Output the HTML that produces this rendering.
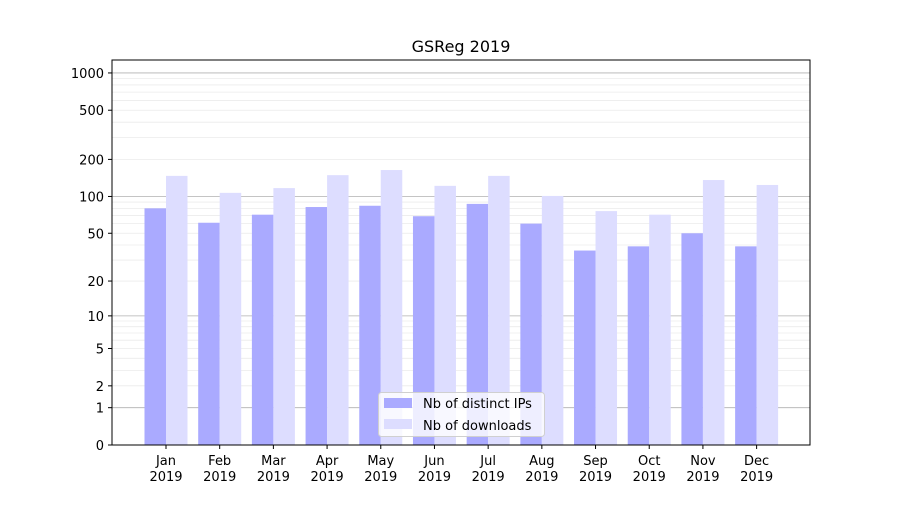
<!DOCTYPE html>
<html><head><meta charset="utf-8"><style>
body{margin:0;background:#fff;}
svg text{font-family:"DejaVu Sans","Liberation Sans",sans-serif;fill:#000;}
</style></head><body>
<svg id="chart" width="900" height="500" xmlns="http://www.w3.org/2000/svg">
<text x="461" y="52" font-size="16" text-anchor="middle">GSReg 2019</text>
<g id="grid"></g><g id="bars"></g><g id="axes"></g>
</svg>
<script>
const categories=["Jan","Feb","Mar","Apr","May","Jun","Jul","Aug","Sep","Oct","Nov","Dec"];
const ipsValues=[80,61,71,82,84,69,87,60,36,39,50,39];
const downloadValues=[147,107,117,149,164,122,147,101,76,71,136,124];
const yTickLabels=[0,1,2,5,10,20,50,100,200,500,1000];
const NS="http://www.w3.org/2000/svg";
const L=112,R=810,T=60,B=445;
function y(v){return B-124*Math.log10(v+1);}
function xc(i){return 166+(R-L)/13*i;}
const bw=21.5;
function mk(tag,attrs,parent){const e=document.createElementNS(NS,tag);for(const k in attrs)e.setAttribute(k,attrs[k]);parent.appendChild(e);return e;}
const grid=document.getElementById('grid'),bars=document.getElementById('bars'),axes=document.getElementById('axes');
for(let d=1;d<=1000;d*=10){for(let m=1;m<10;m++){const v=d*m;const yy=y(v);if(yy<T)continue;
const g=mk('line',{x1:L,x2:R,y1:yy,y2:yy,stroke:m==1?'#b0b0b0':'#ebebeb','stroke-width':0.8},grid);

}}
categories.forEach((c,i)=>{
const b1=mk('rect',{x:xc(i)-bw,y:y(ipsValues[i]),width:bw,height:B-y(ipsValues[i]),fill:'#aaaaff'},bars);


const b2=mk('rect',{x:xc(i),y:y(downloadValues[i]),width:bw,height:B-y(downloadValues[i]),fill:'#ddddff'},bars);


mk('line',{x1:xc(i),x2:xc(i),y1:B,y2:B+4,stroke:'#000'},axes);
const t=mk('text',{x:xc(i),y:B+20,'font-size':13,'text-anchor':'middle'},axes);


t.innerHTML=`<tspan x="${xc(i)}">${c}</tspan><tspan x="${xc(i)}" dy="16">2019</tspan>`;
});
yTickLabels.forEach(v=>{const yy=y(v);
mk('line',{x1:L-4,x2:L,y1:yy,y2:yy,stroke:'#000'},axes);
const t=mk('text',{x:L-8,y:yy+5,'font-size':13,'text-anchor':'end'},axes);


t.textContent=v;});
const fr=mk('rect',{x:L,y:T,width:R-L,height:B-T,fill:'none',stroke:'#000','stroke-width':1},axes);


const lg=mk('g',{},axes);


mk('rect',{x:378.5,y:392.5,width:166,height:44,rx:3,fill:'rgba(255,255,255,0.8)',stroke:'#d0d0d0'},lg);
mk('rect',{x:384,y:398,width:28,height:10,fill:'#aaaaff'},lg);
mk('rect',{x:384,y:419,width:28,height:10,fill:'#ddddff'},lg);
const l1=mk('text',{x:423,y:408,'font-size':13},lg);l1.textContent='Nb of distinct IPs';


const l2=mk('text',{x:423,y:430,'font-size':13},lg);l2.textContent='Nb of downloads';


</script>
</body></html>
